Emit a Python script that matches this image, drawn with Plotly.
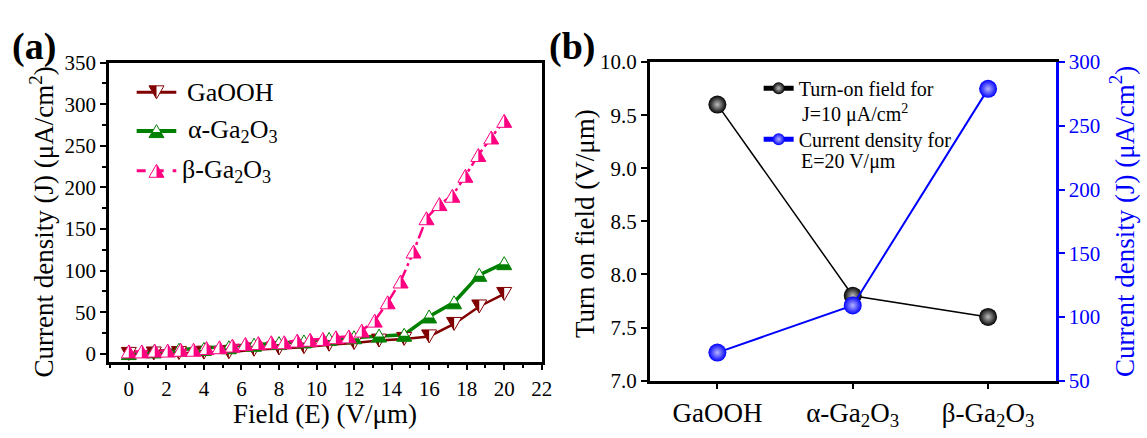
import plotly.graph_objects as go

# ---- (a) J-E curves ----
field_beta = [0.0, 0.69, 1.38, 2.07, 2.76, 3.45, 4.14, 4.83, 5.52, 6.21,
              6.9, 7.59, 8.28, 8.97, 9.66, 10.34, 11.03, 11.72, 12.41, 13.1,
              13.79, 14.48, 15.17, 15.86, 16.55, 17.24, 17.93, 18.62, 19.31, 20.0]
j_beta = [3, 3, 4, 4, 5, 5, 7, 8, 10, 12,
          13, 14, 14, 16, 17, 18, 20, 21, 28, 40,
          62, 87, 123, 163, 180, 190, 214, 239, 260, 280]

field_16 = [0.0, 1.33, 2.67, 4.0, 5.33, 6.67, 8.0, 9.33,
            10.67, 12.0, 13.33, 14.67, 16.0, 17.33, 18.67, 20.0]
j_gaooh = [0, 0.5, 1, 1.5, 2, 5, 6.5, 8, 11, 13, 16, 18, 21, 36, 57, 72]
j_alpha = [1, 3, 5, 6, 8, 11, 13, 15, 18, 20, 22, 23, 45, 62, 95, 109]

# ---- (b) summary ----
samples = ["GaOOH", "α-Ga2O3", "β-Ga2O3"]
sample_labels = ["GaOOH", "α-Ga<sub>2</sub>O<sub>3</sub>", "β-Ga<sub>2</sub>O<sub>3</sub>"]
turn_on = [9.6, 7.8, 7.6]
j_at_20 = [72, 109, 279]

W, H = 1147, 438
FONT = "Liberation Serif"
RED, GREEN, PINK, BLUE = "#800000", "#008000", "#FF0080", "#0000FF"


def px_x(p):
    return p / W


def px_y(p):
    return 1 - p / H


# half-filled symbol outlines (pixel units, y up)
UP = "M-7.5,-6.5 L7.5,-6.5 L0,6.5 Z"
DOWN = "M-7.5,6.5 L7.5,6.5 L0,-6.5 Z"
UP_RIGHT_HALF = "M0,-6.5 L7.5,-6.5 L0,6.5 Z"
UP_BOTTOM = "M-7.5,-6.5 L7.5,-6.5 L4.4,-1 L-4.4,-1 Z"
DOWN_LEFT_HALF = "M-7.5,6.5 L0,6.5 L0,-6.5 Z"


def symbols(xs, ys, color, outline, filled, xref="x", yref="y"):
    out = []
    for xv, yv in zip(xs, ys):
        base = dict(type="path", xref=xref, yref=yref, xsizemode="pixel",
                    ysizemode="pixel", xanchor=xv, yanchor=yv, layer="above")
        out.append(dict(base, path=outline, fillcolor="white",
                        line=dict(color=color, width=1)))
        out.append(dict(base, path=filled, fillcolor=color, line=dict(width=0)))
    return out


def label(text, x, y, size, color="black", angle=0, xanchor="center"):
    return dict(text=text, x=px_x(x), y=px_y(y), xref="paper", yref="paper",
                xanchor=xanchor, yanchor="middle", showarrow=False,
                textangle=angle, font=dict(family=FONT, size=size, color=color))


fig = go.Figure()

fig.add_trace(go.Scatter(x=field_16, y=j_gaooh, mode="lines",
                         line=dict(color=RED, width=2.5), showlegend=False,
                         xaxis="x", yaxis="y"))
fig.add_trace(go.Scatter(x=field_16, y=j_alpha, mode="lines",
                         line=dict(color=GREEN, width=3.5), showlegend=False,
                         xaxis="x", yaxis="y"))
fig.add_trace(go.Scatter(x=field_beta, y=j_beta, mode="lines",
                         line=dict(color=PINK, width=2.5, dash="12px,4px,3px,4px"),
                         showlegend=False, xaxis="x", yaxis="y"))

shapes = []
shapes += symbols(field_16, j_gaooh, RED, DOWN, DOWN_LEFT_HALF)
shapes += symbols(field_16, j_alpha, GREEN, UP, UP_BOTTOM)
shapes += symbols(field_beta, j_beta, PINK, UP, UP_RIGHT_HALF)

# legend of panel (a)
leg_rows = [
    ("GaOOH", RED, 3, "solid", DOWN, DOWN_LEFT_HALF, 85, 187),
    ("α-Ga<sub>2</sub>O<sub>3</sub>", GREEN, 4, "solid", UP, UP_BOTTOM, 126, 188),
    ("β-Ga<sub>2</sub>O<sub>3</sub>", PINK, 3, "dash", UP, UP_RIGHT_HALF, 168, 182),
]
annotations = []
for text, col, lw, dash, outline, filled, yy, tx in leg_rows:
    shapes.append(dict(type="line", xref="paper", yref="paper",
                       x0=px_x(138), x1=px_x(178), y0=px_y(yy), y1=px_y(yy),
                       line=dict(color=col, width=lw, dash=dash), layer="above"))
    shapes += symbols([px_x(158)], [px_y(yy)], col, outline, filled,
                      xref="paper", yref="paper")
    annotations.append(label(text, tx, yy, 26, xanchor="left"))

# ---- panel (b) ----
fig.add_trace(go.Scatter(
    x=samples, y=turn_on, mode="lines+markers", xaxis="x2", yaxis="y2",
    name="Turn-on field for", legendgroup="turn_on",
    line=dict(color="black", width=1.5),
    marker=dict(size=18, color="black", gradient=dict(type="radial", color="#bdbdbd")),
    legend="legend"))
fig.add_trace(go.Scatter(
    x=samples, y=j_at_20, mode="lines+markers", xaxis="x2", yaxis="y3",
    name="Current density for", legendgroup="j20",
    line=dict(color=BLUE, width=2),
    marker=dict(size=18, color=BLUE, gradient=dict(type="radial", color="#b3b3ff")),
    legend="legend"))

# second lines of the panel (b) legend entries
annotations += [
    label("J=10 μA/cm<sup>2</sup>", 808, 107, 20, xanchor="left"),
    label("E=20 V/μm", 807, 158, 20, xanchor="left"),
]

tickfont = dict(family=FONT, size=21, color="black")
axis_common = dict(showgrid=False, zeroline=False, showline=True, linecolor="black",
                   linewidth=2.5, ticks="outside", tickcolor="black", tickwidth=2,
                   ticklen=6, tickfont=tickfont)

annotations += [
    label("Field (E) (V/μm)", 328, 425, 27),
    label("Current density (J) (μA/cm<sup>2</sup>)", 42, 222, 27, angle=-90),
    label("Turn on field (V/μm)", 590, 224, 27, angle=-90),
    label("Current density (J) (μA/cm<sup>2</sup>)", 1133, 222, 27, color=BLUE, angle=-90),
    label("<b>(a)</b>", 34, 36, 38),
    label("<b>(b)</b>", 578, 36, 38),
]

fig.update_layout(
    width=W, height=H, margin=dict(l=0, r=0, t=0, b=0),
    paper_bgcolor="white", plot_bgcolor="white",
    xaxis=dict(axis_common, domain=[px_x(110), px_x(547)], range=[-1.06, 22],
               tickvals=list(range(0, 23, 2)), anchor="y", mirror=True,
               minor=dict(dtick=1, ticks="outside", ticklen=4, tickwidth=1.5,
                          tickcolor="black")),
    yaxis=dict(axis_common, domain=[px_y(370), px_y(53.5)], range=[-9.4, 350],
               dtick=50, anchor="x", mirror=True,
               minor=dict(dtick=25, ticks="outside", ticklen=4, tickwidth=1.5,
                          tickcolor="black")),
    xaxis2=dict(axis_common, domain=[px_x(656), px_x(1066)], range=[-0.5, 2.5],
                type="category", categoryarray=samples, tickvals=samples,
                ticktext=sample_labels, anchor="y2", mirror=True,
                tickfont=dict(family=FONT, size=27, color="black")),
    yaxis2=dict(axis_common, domain=[px_y(390), px_y(53)], range=[7, 10],
                dtick=0.5, tickformat=".1f", anchor="x2"),
    yaxis3=dict(axis_common, range=[50, 300], dtick=50, anchor="x2",
                overlaying="y2", side="right", linecolor=BLUE, tickcolor=BLUE,
                tickfont=dict(family=FONT, size=21, color=BLUE)),
    legend=dict(x=px_x(766), y=px_y(60), xanchor="left", yanchor="top",
                bgcolor="rgba(0,0,0,0)", borderwidth=0, itemsizing="constant",
                itemwidth=30, tracegroupgap=22,
                font=dict(family=FONT, size=20, color="black")),
    shapes=shapes, annotations=annotations,
)

fig.write_html("out.html")
